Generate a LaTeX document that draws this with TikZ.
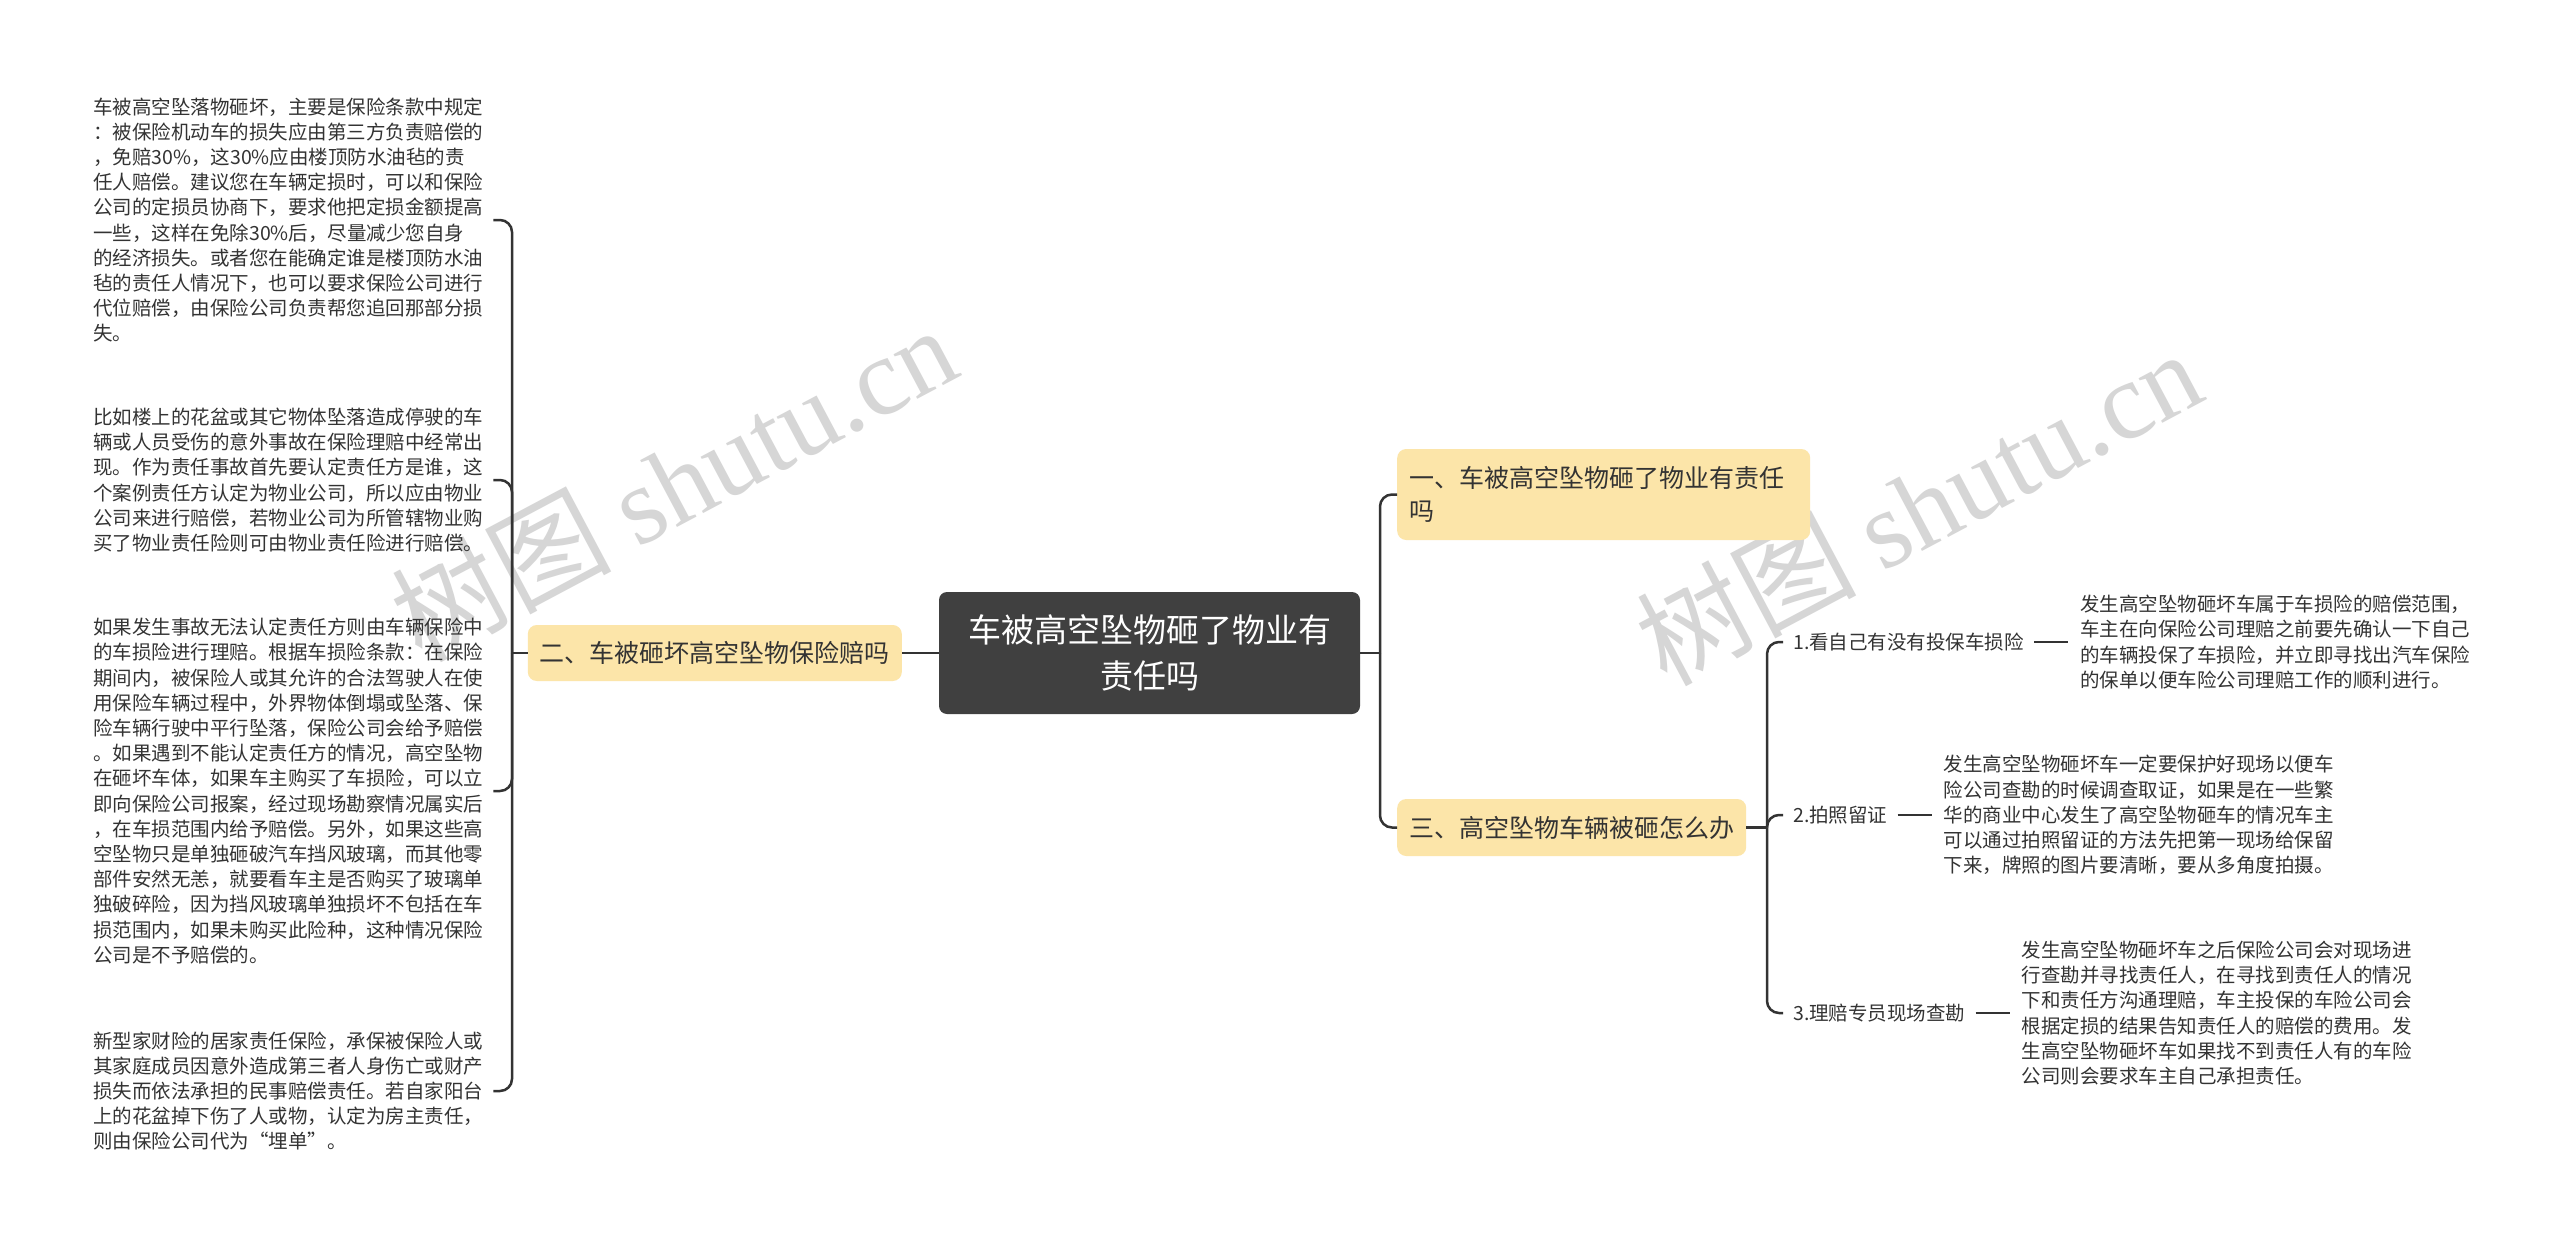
\documentclass[tikz,border=0pt]{standalone}
\usepackage{fontspec}
\setmainfont{Noto Sans CJK SC}
\newfontfamily\latinserif{Liberation Serif}
\usetikzlibrary{positioning}
\definecolor{rootgray}{HTML}{404040}
\definecolor{topicyellow}{HTML}{FCE5A9}
\definecolor{inkgray}{HTML}{333333}
\definecolor{markgray}{HTML}{D6D6D6}

\begin{document}
\begin{tikzpicture}[x=1pt, y=-1pt,
    every node/.style={text=inkgray, inner sep=0pt},
    rootbox/.style={fill=rootgray, text=white, rounded corners=8pt, align=center, font=\fontsize{33}{46}\selectfont, minimum width=421pt, minimum height=122pt},
    topic/.style={fill=topicyellow, rounded corners=9pt, inner xsep=12pt, align=left, font=\fontsize{25}{33}\selectfont},
    leaf/.style={align=left, text width=390pt, font=\fontsize{19.5}{25.2}\selectfont},
    sublabel/.style={font=\fontsize{19.5}{25.2}\selectfont},
    conn/.style={draw=inkgray, line width=2.5pt, rounded corners=12pt},
    watermark/.style={text=markgray, rotate=28, font=\fontsize{110}{110}\selectfont}]
        \useasboundingbox (0,0) rectangle (2560,1244);
        \fill[white] (0,0) rectangle (2560,1244);
        % Watermarks
        \node[watermark] (wmleft) at (673,482) {树图 {\latinserif shutu.cn}};
        \node[watermark] (wmright) at (1918,506) {树图 {\latinserif shutu.cn}};
        % Root
        \node[rootbox] (root) at (1149.5,653) {车被高空坠物砸了物业有\\责任吗};
        % Left branch
        \node[topic, anchor=east, minimum height=56pt] (n2) at (902,653) {二、车被砸坏高空坠物保险赔吗};
        \coordinate (lj) at (512,653);
        \node[leaf, anchor=west] (b1) at (93,220) {车被高空坠落物砸坏，主要是保险条款中规定\\：被保险机动车的损失应由第三方负责赔偿的\\，免赔30\%，这30\%应由楼顶防水油毡的责\\任人赔偿。建议您在车辆定损时，可以和保险\\公司的定损员协商下，要求他把定损金额提高\\一些，这样在免除30\%后，尽量减少您自身\\的经济损失。或者您在能确定谁是楼顶防水油\\毡的责任人情况下，也可以要求保险公司进行\\代位赔偿，由保险公司负责帮您追回那部分损\\失。};
        \node[leaf, anchor=west] (b2) at (93,480) {比如楼上的花盆或其它物体坠落造成停驶的车\\辆或人员受伤的意外事故在保险理赔中经常出\\现。作为责任事故首先要认定责任方是谁，这\\个案例责任方认定为物业公司，所以应由物业\\公司来进行赔偿，若物业公司为所管辖物业购\\买了物业责任险则可由物业责任险进行赔偿。};
        \node[leaf, anchor=west] (b3) at (93,791) {如果发生事故无法认定责任方则由车辆保险中\\的车损险进行理赔。根据车损险条款：在保险\\期间内，被保险人或其允许的合法驾驶人在使\\用保险车辆过程中，外界物体倒塌或坠落、保\\险车辆行驶中平行坠落，保险公司会给予赔偿\\。如果遇到不能认定责任方的情况，高空坠物\\在砸坏车体，如果车主购买了车损险，可以立\\即向保险公司报案，经过现场勘察情况属实后\\，在车损范围内给予赔偿。另外，如果这些高\\空坠物只是单独砸破汽车挡风玻璃，而其他零\\部件安然无恙，就要看车主是否购买了玻璃单\\独破碎险，因为挡风玻璃单独损坏不包括在车\\损范围内，如果未购买此险种，这种情况保险\\公司是不予赔偿的。};
        \node[leaf, anchor=west] (b4) at (93,1091) {新型家财险的居家责任保险，承保被保险人或\\其家庭成员因意外造成第三者人身伤亡或财产\\损失而依法承担的民事赔偿责任。若自家阳台\\上的花盆掉下伤了人或物，认定为房主责任，\\则由保险公司代为“埋单”。};
        % Right branch
        \coordinate (rj) at (1380,653);
        \node[topic, anchor=west, text width=389pt, minimum height=91pt] (n1) at (1397,494.5) {一、车被高空坠物砸了物业有责任\\吗};
        \node[topic, anchor=west, minimum height=57pt] (n3) at (1397,827.5) {三、高空坠物车辆被砸怎么办};
        \coordinate (sj) at (1767,827.5);
        \node[sublabel, anchor=west] (l1) at (1793,642) {1.看自己有没有投保车损险};
        \node[sublabel, anchor=west] (l2) at (1793,815) {2.拍照留证};
        \node[sublabel, anchor=west] (l3) at (1793,1013) {3.理赔专员现场查勘};
        \node[leaf, right=56pt of l1] (t1) {发生高空坠物砸坏车属于车损险的赔偿范围，\\车主在向保险公司理赔之前要先确认一下自己\\的车辆投保了车损险，并立即寻找出汽车保险\\的保单以便车险公司理赔工作的顺利进行。};
        \node[leaf, right=56pt of l2] (t2) {发生高空坠物砸坏车一定要保护好现场以便车\\险公司查勘的时候调查取证，如果是在一些繁\\华的商业中心发生了高空坠物砸车的情况车主\\可以通过拍照留证的方法先把第一现场给保留\\下来，牌照的图片要清晰，要从多角度拍摄。};
        \node[leaf, right=56pt of l3] (t3) {发生高空坠物砸坏车之后保险公司会对现场进\\行查勘并寻找责任人，在寻找到责任人的情况\\下和责任方沟通理赔，车主投保的车险公司会\\根据定损的结果告知责任人的赔偿的费用。发\\生高空坠物砸坏车如果找不到责任人有的车险\\公司则会要求车主自己承担责任。};

        % Connectors
        \draw[conn] (root.west) -- (n2.east);
        \draw[conn] (n2.west) -- (lj);
        \foreach \b in {b1,b2,b3,b4}
            \draw[conn, shorten >=10pt] (lj) |- (\b.east);
        \draw[conn] (root.east) -- (rj);
        \draw[conn] (rj) |- (n1.west);
        \draw[conn] (rj) |- (n3.west);
        \draw[conn] (n3.east) -- (sj);
        \foreach \l/\t in {l1/t1,l2/t2,l3/t3} {
            \draw[conn, shorten >=10pt] (sj) |- (\l.west);
            \draw[conn, shorten <=10pt, shorten >=12pt] (\l.east) -- (\t.west);
        }
\end{tikzpicture}
\end{document}
